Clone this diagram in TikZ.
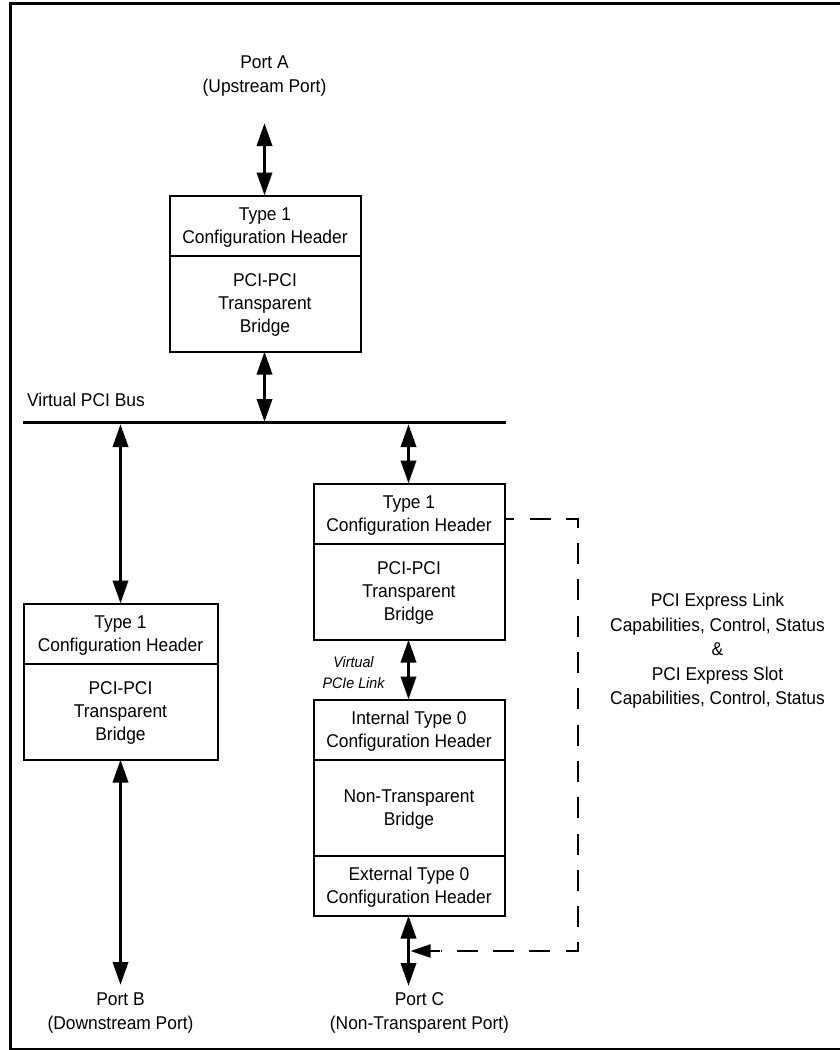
\documentclass[tikz,border=0pt]{standalone}
\usepackage{fontspec}
\setmainfont[FakeStretch=0.94]{Liberation Sans}
\usetikzlibrary{arrows.meta}
\tikzset{
  x=1pt,y=-1pt,
  lbl/.style={align=center,inner sep=0pt,font=\fontsize{18.5}{23.5}\selectfont},
  pane/.style={draw,line width=2pt,inner sep=0pt,outer sep=0pt,anchor=north west,align=center,font=\fontsize{18.5}{23}\selectfont},
  dbl/.style={line width=3.5pt,{Triangle[length=23pt,width=15pt]}-{Triangle[length=23pt,width=15pt]},shorten <=0pt,shorten >=0pt},
  dashline/.style={line width=2pt,dash pattern=on 21pt off 15.3pt,dash phase=11.3pt},
}
\newcommand{\tl}{\rule{0pt}{16.3pt}}
\begin{document}
\begin{tikzpicture}
\useasboundingbox (0,0) rectangle (840,1050);
\draw[line width=3pt] (840,3.5) -- (10.5,3.5) -- (10.5,1049.8) -- (840,1049.8);
% port labels
\node[lbl] (pa) at (264.5,76) {Port A\\(Upstream Port)};
\node[lbl] (pb) at (120.5,1013) {Port B\\(Downstream Port)};
\node[lbl] (pc) at (419.5,1013) {Port C\\(Non-Transparent Port)};
\coordinate (pat) at (264.5,123);
\coordinate (pbt) at (120.5,985);
\coordinate (pct) at (408.5,986);
% top bridge
\node[pane,minimum width=191pt,minimum height=60pt] (t1) at (169.5,195.5) {\tl Type 1\\Configuration Header};
\node[pane,minimum width=191pt,minimum height=96pt] (t2) at (169.5,255.5) {\tl PCI-PCI\\Transparent\\Bridge};
% bus
\coordinate (busl) at (23,422.5);
\coordinate (busr) at (506,422.5);
\draw[line width=3pt] (busl) -- (busr);
\node[lbl,anchor=west] (buslbl) at (27,400) {Virtual PCI Bus};
\coordinate (bus1) at (264.5,422);
\coordinate (bus2) at (120.5,424);
\coordinate (bus3) at (408.5,424);
% left bridge
\node[pane,minimum width=194pt,minimum height=60pt] (l1) at (23.5,603.5) {\tl Type 1\\Configuration Header};
\node[pane,minimum width=194pt,minimum height=96pt] (l2) at (23.5,663.5) {\tl PCI-PCI\\Transparent\\Bridge};
% right bridge
\node[pane,minimum width=191pt,minimum height=60pt] (r1) at (313.5,483.5) {\tl Type 1\\Configuration Header};
\node[pane,minimum width=191pt,minimum height=96pt] (r2) at (313.5,543.5) {\tl PCI-PCI\\Transparent\\Bridge};
% NT bridge
\node[pane,minimum width=191pt,minimum height=60pt] (n1) at (313.5,699.5) {\tl Internal Type 0\\Configuration Header};
\node[pane,minimum width=191pt,minimum height=96pt] (n2) at (313.5,759.5) {\tl Non-Transparent\\Bridge};
\node[pane,minimum width=191pt,minimum height=60pt] (n3) at (313.5,855.5) {\tl External Type 0\\Configuration Header};
% arrows
\draw[dbl] (pat) -- (pat |- t1.north);
\draw[dbl] (bus1 |- t2.south) -- (bus1);
\draw[dbl] (bus2) -- (l1.north);
\draw[dbl] (l2.south) -- (pbt);
\draw[dbl] (bus3) -- (bus3 |- r1.north);
\draw[dbl] (bus3 |- r2.south) -- (bus3 |- n1.north);
\draw[dbl] (bus3 |- n3.south) -- (pct);
% dashed
\coordinate (dc) at (410.5,951);
\coordinate (d1) at (578,519);
\coordinate (d2) at (578,951);
\draw[dashline] (r1.east |- d1) -- (d1) -- (d2) -- (441,951);
\draw[line width=2pt,-{Triangle[length=20pt,width=13pt]}] (440,951) -- (dc);
% side text
\node[lbl,font=\fontsize{18.5}{24.5}\selectfont] (side) at (717.5,651) {PCI Express Link\\Capabilities, Control, Status\\\&\\PCI Express Slot\\Capabilities, Control, Status};
\node[lbl,font=\fontsize{15.2}{21}\selectfont\itshape,anchor=center] (vl) at (353.5,672.5) {Virtual\\PCIe Link};
\end{tikzpicture}
\end{document}
